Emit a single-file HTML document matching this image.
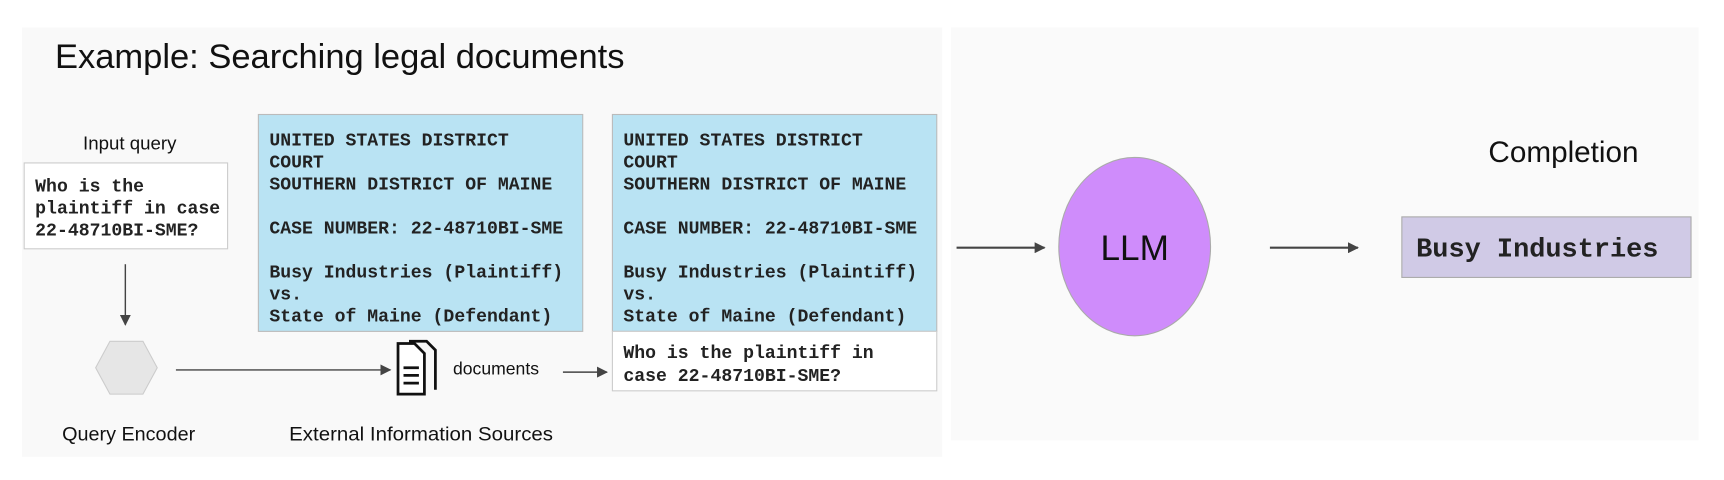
<!DOCTYPE html>
<html><head><style>
html,body{margin:0;padding:0;background:#fff;}
svg{display:block}
.m{font-family:"Liberation Mono",monospace;font-weight:bold;fill:#222;font-size:16.5px}
.s{font-family:"Liberation Sans",sans-serif;fill:#111}
</style></head><body>
<svg width="1724" height="480" viewBox="0 0 1568 436" preserveAspectRatio="none">
<defs><marker id="a" markerWidth="10" markerHeight="10" refX="9" refY="5" orient="auto" markerUnits="userSpaceOnUse"><path d="M0,0 L10,5 L0,10 z" fill="#444"/></marker></defs>
<rect x="0" y="0" width="1568" height="436" fill="#fff"/>
<rect x="20" y="25" width="837" height="390" fill="#f9f9f9"/>
<rect x="865" y="25" width="680" height="375" fill="#fafafa"/>
<text x="50" y="62" class="s" font-size="31.5" textLength="518" lengthAdjust="spacingAndGlyphs">Example: Searching legal documents</text>
<text x="118" y="136" class="s" font-size="17" text-anchor="middle">Input query</text>
<rect x="22" y="148" width="185" height="78" fill="#fff" stroke="#ccc"/>
<text class="m"><tspan x="32" y="174">Who is the</tspan><tspan x="32" y="194">plaintiff in case</tspan><tspan x="32" y="214">22-48710BI-SME?</tspan></text>
<line x1="114" y1="240" x2="114" y2="295" stroke="#444" stroke-width="1.3" marker-end="url(#a)"/>
<polygon points="100,310 130,310 143,334 130,358 100,358 87,334" fill="#e6e6e6" stroke="#ccc"/>
<line x1="160" y1="336" x2="355" y2="336" stroke="#444" stroke-width="1.3" marker-end="url(#a)"/>
<g fill="none" stroke="#111" stroke-width="2.5">
<path d="M372,310 L388,310 L396,318 L396,354"/>
<path d="M362,312 L377,312 L386,321 L386,358 L362,358 Z" fill="#fff"/>
<path d="M367,334 H381 M367,341 H381 M367,348 H381"/>
</g>
<text x="412" y="340" class="s" font-size="16">documents</text>
<line x1="512" y1="338" x2="552" y2="338" stroke="#444" stroke-width="1.3" marker-end="url(#a)"/>
<text x="117" y="400" class="s" font-size="18" text-anchor="middle">Query Encoder</text>
<text x="383" y="400" class="s" font-size="18" text-anchor="middle" textLength="240" lengthAdjust="spacingAndGlyphs">External Information Sources</text>
<rect x="235" y="104" width="295" height="197" fill="#b9e3f3" stroke="#bbb"/>
<text class="m"><tspan x="245" y="132">UNITED STATES DISTRICT</tspan><tspan x="245" y="152">COURT</tspan><tspan x="245" y="172">SOUTHERN DISTRICT OF MAINE</tspan><tspan x="245" y="212">CASE NUMBER: 22-48710BI-SME</tspan><tspan x="245" y="252">Busy Industries (Plaintiff)</tspan><tspan x="245" y="272">vs.</tspan><tspan x="245" y="292">State of Maine (Defendant)</tspan></text>
<rect x="557" y="104" width="295" height="197" fill="#b9e3f3" stroke="#bbb"/>
<rect x="557" y="301" width="295" height="54" fill="#fff" stroke="#ccc"/>
<text class="m"><tspan x="567" y="132">UNITED STATES DISTRICT</tspan><tspan x="567" y="152">COURT</tspan><tspan x="567" y="172">SOUTHERN DISTRICT OF MAINE</tspan><tspan x="567" y="212">CASE NUMBER: 22-48710BI-SME</tspan><tspan x="567" y="252">Busy Industries (Plaintiff)</tspan><tspan x="567" y="272">vs.</tspan><tspan x="567" y="292">State of Maine (Defendant)</tspan><tspan x="567" y="325">Who is the plaintiff in</tspan><tspan x="567" y="346">case 22-48710BI-SME?</tspan></text>
<line x1="870" y1="225" x2="950" y2="225" stroke="#444" stroke-width="2" marker-end="url(#a)"/>
<ellipse cx="1032" cy="224" rx="69" ry="81" fill="#cf8cfb" stroke="#aaa"/>
<text x="1032" y="236" class="s" font-size="32" text-anchor="middle">LLM</text>
<line x1="1155" y1="225" x2="1235" y2="225" stroke="#444" stroke-width="2" marker-end="url(#a)"/>
<text x="1422" y="147" class="s" font-size="27" text-anchor="middle">Completion</text>
<rect x="1275" y="197" width="263" height="55" fill="#d0cae6" stroke="#aaa"/>
<text x="1288" y="233" class="m" style="font-size:24.5px">Busy Industries</text>
</svg>
</body></html>
